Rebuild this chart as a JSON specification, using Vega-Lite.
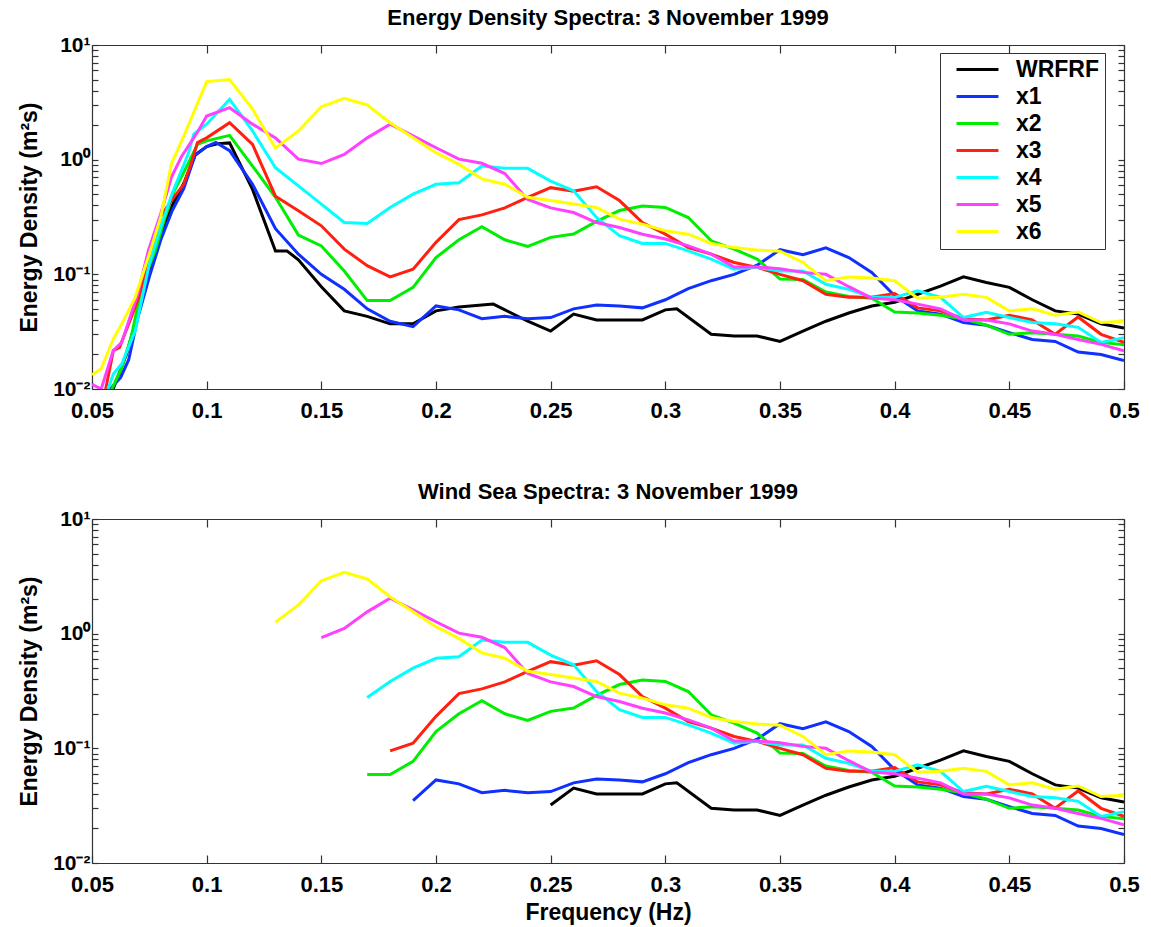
{
  "$schema": "https://vega.github.io/schema/vega-lite/v6.json",
  "background": "white",
  "padding": {"left": 18, "top": 7, "right": 5, "bottom": 5},
  "config": {
    "font": "Liberation Sans",
    "view": {"stroke": null},
    "axis": {"grid": false, "domainColor": "#333333", "domainWidth": 1.2, "tickColor": "#333333", "tickWidth": 1.2,
      "labelColor": "black", "labelFontWeight": "bold", "labelFontSize": 22, "titleFontSize": 23, "titleFontWeight": "bold", "titleColor": "black", "labelOverlap": false, "labelBound": false, "labelFlush": false},
    "title": {"fontSize": 22, "fontWeight": "bold", "color": "black", "anchor": "middle"}
  },
  "datasets": {
    "cutoff": [
      {"s": "WRFRF", "f0": 0.25}, {"s": "x1", "f0": 0.19}, {"s": "x2", "f0": 0.17}, {"s": "x3", "f0": 0.18},
      {"s": "x4", "f0": 0.17}, {"s": "x5", "f0": 0.15}, {"s": "x6", "f0": 0.13}
    ],
    "spec": [
      {"s":"WRFRF","f":0.055,"E":0.006},{"s":"WRFRF","f":0.06,"E":0.011},{"s":"WRFRF","f":0.065,"E":0.02},{"s":"WRFRF","f":0.07,"E":0.045},{"s":"WRFRF","f":0.075,"E":0.1},{"s":"WRFRF","f":0.08,"E":0.22},{"s":"WRFRF","f":0.085,"E":0.4},{"s":"WRFRF","f":0.09,"E":0.62},{"s":"WRFRF","f":0.095,"E":1.1},{"s":"WRFRF","f":0.1,"E":1.3},{"s":"WRFRF","f":0.105,"E":1.38},{"s":"WRFRF","f":0.11,"E":1.4},{"s":"WRFRF","f":0.12,"E":0.55},{"s":"WRFRF","f":0.13,"E":0.16},{"s":"WRFRF","f":0.135,"E":0.16},{"s":"WRFRF","f":0.14,"E":0.134},{"s":"WRFRF","f":0.15,"E":0.078},{"s":"WRFRF","f":0.16,"E":0.048},{"s":"WRFRF","f":0.17,"E":0.043},{"s":"WRFRF","f":0.18,"E":0.037},{"s":"WRFRF","f":0.19,"E":0.037},{"s":"WRFRF","f":0.2,"E":0.048},{"s":"WRFRF","f":0.21,"E":0.052},{"s":"WRFRF","f":0.22,"E":0.054},{"s":"WRFRF","f":0.225,"E":0.055},{"s":"WRFRF","f":0.24,"E":0.039},{"s":"WRFRF","f":0.25,"E":0.032},{"s":"WRFRF","f":0.26,"E":0.045},{"s":"WRFRF","f":0.27,"E":0.04},{"s":"WRFRF","f":0.28,"E":0.04},{"s":"WRFRF","f":0.29,"E":0.04},{"s":"WRFRF","f":0.3,"E":0.049},{"s":"WRFRF","f":0.305,"E":0.05},{"s":"WRFRF","f":0.32,"E":0.03},{"s":"WRFRF","f":0.33,"E":0.029},{"s":"WRFRF","f":0.34,"E":0.029},{"s":"WRFRF","f":0.35,"E":0.026},{"s":"WRFRF","f":0.36,"E":0.032},{"s":"WRFRF","f":0.37,"E":0.039},{"s":"WRFRF","f":0.38,"E":0.046},{"s":"WRFRF","f":0.39,"E":0.053},{"s":"WRFRF","f":0.4,"E":0.057},{"s":"WRFRF","f":0.41,"E":0.067},{"s":"WRFRF","f":0.42,"E":0.079},{"s":"WRFRF","f":0.43,"E":0.095},{"s":"WRFRF","f":0.44,"E":0.085},{"s":"WRFRF","f":0.45,"E":0.077},{"s":"WRFRF","f":0.46,"E":0.06},{"s":"WRFRF","f":0.47,"E":0.048},{"s":"WRFRF","f":0.48,"E":0.045},{"s":"WRFRF","f":0.49,"E":0.037},{"s":"WRFRF","f":0.5,"E":0.034},

      {"s":"x1","f":0.055,"E":0.006},{"s":"x1","f":0.058,"E":0.01},{"s":"x1","f":0.0625,"E":0.0126},{"s":"x1","f":0.066,"E":0.018},{"s":"x1","f":0.07,"E":0.042},{"s":"x1","f":0.075,"E":0.095},{"s":"x1","f":0.08,"E":0.2},{"s":"x1","f":0.085,"E":0.36},{"s":"x1","f":0.09,"E":0.56},{"s":"x1","f":0.095,"E":1.1},{"s":"x1","f":0.1,"E":1.3},{"s":"x1","f":0.104,"E":1.41},{"s":"x1","f":0.11,"E":1.2},{"s":"x1","f":0.12,"E":0.61},{"s":"x1","f":0.13,"E":0.25},{"s":"x1","f":0.14,"E":0.15},{"s":"x1","f":0.15,"E":0.1},{"s":"x1","f":0.16,"E":0.074},{"s":"x1","f":0.17,"E":0.05},{"s":"x1","f":0.18,"E":0.039},{"s":"x1","f":0.19,"E":0.035},{"s":"x1","f":0.2,"E":0.053},{"s":"x1","f":0.21,"E":0.049},{"s":"x1","f":0.22,"E":0.041},{"s":"x1","f":0.23,"E":0.043},{"s":"x1","f":0.24,"E":0.041},{"s":"x1","f":0.25,"E":0.042},{"s":"x1","f":0.26,"E":0.05},{"s":"x1","f":0.27,"E":0.054},{"s":"x1","f":0.28,"E":0.053},{"s":"x1","f":0.29,"E":0.051},{"s":"x1","f":0.3,"E":0.06},{"s":"x1","f":0.31,"E":0.075},{"s":"x1","f":0.32,"E":0.088},{"s":"x1","f":0.33,"E":0.1},{"s":"x1","f":0.34,"E":0.12},{"s":"x1","f":0.35,"E":0.164},{"s":"x1","f":0.36,"E":0.148},{"s":"x1","f":0.37,"E":0.17},{"s":"x1","f":0.38,"E":0.14},{"s":"x1","f":0.39,"E":0.104},{"s":"x1","f":0.4,"E":0.065},{"s":"x1","f":0.41,"E":0.048},{"s":"x1","f":0.42,"E":0.045},{"s":"x1","f":0.43,"E":0.038},{"s":"x1","f":0.44,"E":0.036},{"s":"x1","f":0.45,"E":0.031},{"s":"x1","f":0.46,"E":0.027},{"s":"x1","f":0.47,"E":0.026},{"s":"x1","f":0.48,"E":0.021},{"s":"x1","f":0.49,"E":0.02},{"s":"x1","f":0.5,"E":0.0177},

      {"s":"x2","f":0.055,"E":0.006},{"s":"x2","f":0.0587,"E":0.01},{"s":"x2","f":0.063,"E":0.0155},{"s":"x2","f":0.067,"E":0.028},{"s":"x2","f":0.072,"E":0.083},{"s":"x2","f":0.0775,"E":0.16},{"s":"x2","f":0.082,"E":0.32},{"s":"x2","f":0.086,"E":0.54},{"s":"x2","f":0.092,"E":0.93},{"s":"x2","f":0.096,"E":1.36},{"s":"x2","f":0.1,"E":1.46},{"s":"x2","f":0.11,"E":1.63},{"s":"x2","f":0.12,"E":0.88},{"s":"x2","f":0.13,"E":0.47},{"s":"x2","f":0.14,"E":0.22},{"s":"x2","f":0.15,"E":0.177},{"s":"x2","f":0.16,"E":0.107},{"s":"x2","f":0.17,"E":0.059},{"s":"x2","f":0.18,"E":0.059},{"s":"x2","f":0.19,"E":0.077},{"s":"x2","f":0.2,"E":0.14},{"s":"x2","f":0.21,"E":0.2},{"s":"x2","f":0.22,"E":0.26},{"s":"x2","f":0.23,"E":0.2},{"s":"x2","f":0.24,"E":0.175},{"s":"x2","f":0.25,"E":0.21},{"s":"x2","f":0.26,"E":0.225},{"s":"x2","f":0.27,"E":0.29},{"s":"x2","f":0.28,"E":0.36},{"s":"x2","f":0.29,"E":0.395},{"s":"x2","f":0.3,"E":0.383},{"s":"x2","f":0.31,"E":0.313},{"s":"x2","f":0.32,"E":0.196},{"s":"x2","f":0.33,"E":0.166},{"s":"x2","f":0.34,"E":0.136},{"s":"x2","f":0.35,"E":0.091},{"s":"x2","f":0.36,"E":0.09},{"s":"x2","f":0.37,"E":0.07},{"s":"x2","f":0.38,"E":0.064},{"s":"x2","f":0.39,"E":0.062},{"s":"x2","f":0.4,"E":0.047},{"s":"x2","f":0.41,"E":0.046},{"s":"x2","f":0.42,"E":0.044},{"s":"x2","f":0.43,"E":0.041},{"s":"x2","f":0.44,"E":0.036},{"s":"x2","f":0.45,"E":0.03},{"s":"x2","f":0.46,"E":0.031},{"s":"x2","f":0.47,"E":0.03},{"s":"x2","f":0.48,"E":0.029},{"s":"x2","f":0.49,"E":0.0255},{"s":"x2","f":0.5,"E":0.0243},

      {"s":"x3","f":0.055,"E":0.008},{"s":"x3","f":0.0593,"E":0.0216},{"s":"x3","f":0.062,"E":0.023},{"s":"x3","f":0.066,"E":0.037},{"s":"x3","f":0.07,"E":0.06},{"s":"x3","f":0.075,"E":0.13},{"s":"x3","f":0.08,"E":0.32},{"s":"x3","f":0.085,"E":0.45},{"s":"x3","f":0.09,"E":0.61},{"s":"x3","f":0.093,"E":0.9},{"s":"x3","f":0.096,"E":1.41},{"s":"x3","f":0.1,"E":1.55},{"s":"x3","f":0.11,"E":2.1},{"s":"x3","f":0.12,"E":1.36},{"s":"x3","f":0.13,"E":0.48},{"s":"x3","f":0.14,"E":0.358},{"s":"x3","f":0.15,"E":0.265},{"s":"x3","f":0.16,"E":0.166},{"s":"x3","f":0.17,"E":0.119},{"s":"x3","f":0.18,"E":0.095},{"s":"x3","f":0.19,"E":0.111},{"s":"x3","f":0.2,"E":0.19},{"s":"x3","f":0.21,"E":0.3},{"s":"x3","f":0.22,"E":0.33},{"s":"x3","f":0.23,"E":0.38},{"s":"x3","f":0.24,"E":0.47},{"s":"x3","f":0.25,"E":0.57},{"s":"x3","f":0.26,"E":0.53},{"s":"x3","f":0.27,"E":0.58},{"s":"x3","f":0.28,"E":0.44},{"s":"x3","f":0.29,"E":0.283},{"s":"x3","f":0.3,"E":0.224},{"s":"x3","f":0.31,"E":0.171},{"s":"x3","f":0.32,"E":0.15},{"s":"x3","f":0.33,"E":0.127},{"s":"x3","f":0.34,"E":0.115},{"s":"x3","f":0.35,"E":0.1},{"s":"x3","f":0.36,"E":0.088},{"s":"x3","f":0.37,"E":0.067},{"s":"x3","f":0.38,"E":0.063},{"s":"x3","f":0.39,"E":0.063},{"s":"x3","f":0.4,"E":0.068},{"s":"x3","f":0.41,"E":0.051},{"s":"x3","f":0.42,"E":0.048},{"s":"x3","f":0.43,"E":0.041},{"s":"x3","f":0.44,"E":0.04},{"s":"x3","f":0.45,"E":0.044},{"s":"x3","f":0.46,"E":0.04},{"s":"x3","f":0.47,"E":0.03},{"s":"x3","f":0.48,"E":0.0425},{"s":"x3","f":0.49,"E":0.03},{"s":"x3","f":0.5,"E":0.0255},

      {"s":"x4","f":0.055,"E":0.006},{"s":"x4","f":0.057,"E":0.01},{"s":"x4","f":0.0593,"E":0.0135},{"s":"x4","f":0.063,"E":0.0166},{"s":"x4","f":0.0688,"E":0.032},{"s":"x4","f":0.075,"E":0.124},{"s":"x4","f":0.08,"E":0.26},{"s":"x4","f":0.085,"E":0.51},{"s":"x4","f":0.092,"E":1.13},{"s":"x4","f":0.0944,"E":1.67},{"s":"x4","f":0.1,"E":2.04},{"s":"x4","f":0.11,"E":3.36},{"s":"x4","f":0.12,"E":1.78},{"s":"x4","f":0.13,"E":0.85},{"s":"x4","f":0.14,"E":0.59},{"s":"x4","f":0.15,"E":0.41},{"s":"x4","f":0.16,"E":0.283},{"s":"x4","f":0.17,"E":0.278},{"s":"x4","f":0.18,"E":0.383},{"s":"x4","f":0.19,"E":0.5},{"s":"x4","f":0.2,"E":0.61},{"s":"x4","f":0.21,"E":0.63},{"s":"x4","f":0.22,"E":0.88},{"s":"x4","f":0.23,"E":0.84},{"s":"x4","f":0.24,"E":0.84},{"s":"x4","f":0.25,"E":0.65},{"s":"x4","f":0.26,"E":0.535},{"s":"x4","f":0.27,"E":0.313},{"s":"x4","f":0.28,"E":0.217},{"s":"x4","f":0.29,"E":0.186},{"s":"x4","f":0.3,"E":0.186},{"s":"x4","f":0.31,"E":0.16},{"s":"x4","f":0.32,"E":0.136},{"s":"x4","f":0.33,"E":0.111},{"s":"x4","f":0.34,"E":0.115},{"s":"x4","f":0.35,"E":0.107},{"s":"x4","f":0.36,"E":0.107},{"s":"x4","f":0.37,"E":0.082},{"s":"x4","f":0.38,"E":0.074},{"s":"x4","f":0.39,"E":0.063},{"s":"x4","f":0.4,"E":0.063},{"s":"x4","f":0.41,"E":0.072},{"s":"x4","f":0.42,"E":0.063},{"s":"x4","f":0.43,"E":0.042},{"s":"x4","f":0.44,"E":0.0466},{"s":"x4","f":0.45,"E":0.042},{"s":"x4","f":0.46,"E":0.038},{"s":"x4","f":0.47,"E":0.037},{"s":"x4","f":0.48,"E":0.0345},{"s":"x4","f":0.49,"E":0.0255},{"s":"x4","f":0.5,"E":0.028},

      {"s":"x5","f":0.05,"E":0.011},{"s":"x5","f":0.054,"E":0.01},{"s":"x5","f":0.0593,"E":0.0216},{"s":"x5","f":0.063,"E":0.0256},{"s":"x5","f":0.07,"E":0.068},{"s":"x5","f":0.0746,"E":0.162},{"s":"x5","f":0.08,"E":0.34},{"s":"x5","f":0.0847,"E":0.71},{"s":"x5","f":0.089,"E":1.06},{"s":"x5","f":0.0963,"E":1.78},{"s":"x5","f":0.1,"E":2.4},{"s":"x5","f":0.11,"E":2.84},{"s":"x5","f":0.12,"E":2.04},{"s":"x5","f":0.13,"E":1.55},{"s":"x5","f":0.14,"E":1.01},{"s":"x5","f":0.15,"E":0.925},{"s":"x5","f":0.16,"E":1.11},{"s":"x5","f":0.17,"E":1.55},{"s":"x5","f":0.18,"E":2.04},{"s":"x5","f":0.19,"E":1.61},{"s":"x5","f":0.2,"E":1.27},{"s":"x5","f":0.21,"E":1.01},{"s":"x5","f":0.22,"E":0.93},{"s":"x5","f":0.23,"E":0.757},{"s":"x5","f":0.24,"E":0.45},{"s":"x5","f":0.25,"E":0.38},{"s":"x5","f":0.26,"E":0.346},{"s":"x5","f":0.27,"E":0.283},{"s":"x5","f":0.28,"E":0.256},{"s":"x5","f":0.29,"E":0.224},{"s":"x5","f":0.3,"E":0.203},{"s":"x5","f":0.31,"E":0.177},{"s":"x5","f":0.32,"E":0.15},{"s":"x5","f":0.33,"E":0.116},{"s":"x5","f":0.34,"E":0.116},{"s":"x5","f":0.35,"E":0.112},{"s":"x5","f":0.36,"E":0.104},{"s":"x5","f":0.37,"E":0.1},{"s":"x5","f":0.38,"E":0.078},{"s":"x5","f":0.39,"E":0.062},{"s":"x5","f":0.4,"E":0.06},{"s":"x5","f":0.41,"E":0.055},{"s":"x5","f":0.42,"E":0.05},{"s":"x5","f":0.43,"E":0.04},{"s":"x5","f":0.44,"E":0.04},{"s":"x5","f":0.45,"E":0.037},{"s":"x5","f":0.46,"E":0.032},{"s":"x5","f":0.47,"E":0.03},{"s":"x5","f":0.48,"E":0.027},{"s":"x5","f":0.49,"E":0.0245},{"s":"x5","f":0.5,"E":0.0215},

      {"s":"x6","f":0.05,"E":0.0133},{"s":"x6","f":0.054,"E":0.015},{"s":"x6","f":0.0593,"E":0.0274},{"s":"x6","f":0.063,"E":0.037},{"s":"x6","f":0.0688,"E":0.063},{"s":"x6","f":0.075,"E":0.15},{"s":"x6","f":0.08,"E":0.317},{"s":"x6","f":0.0847,"E":0.93},{"s":"x6","f":0.09,"E":1.6},{"s":"x6","f":0.1,"E":4.8},{"s":"x6","f":0.11,"E":5.0},{"s":"x6","f":0.12,"E":2.76},{"s":"x6","f":0.13,"E":1.26},{"s":"x6","f":0.14,"E":1.78},{"s":"x6","f":0.15,"E":2.89},{"s":"x6","f":0.16,"E":3.43},{"s":"x6","f":0.17,"E":3.0},{"s":"x6","f":0.18,"E":2.1},{"s":"x6","f":0.19,"E":1.55},{"s":"x6","f":0.2,"E":1.15},{"s":"x6","f":0.21,"E":0.91},{"s":"x6","f":0.22,"E":0.68},{"s":"x6","f":0.23,"E":0.61},{"s":"x6","f":0.24,"E":0.47},{"s":"x6","f":0.25,"E":0.44},{"s":"x6","f":0.26,"E":0.41},{"s":"x6","f":0.27,"E":0.383},{"s":"x6","f":0.28,"E":0.303},{"s":"x6","f":0.29,"E":0.274},{"s":"x6","f":0.3,"E":0.24},{"s":"x6","f":0.31,"E":0.224},{"s":"x6","f":0.32,"E":0.186},{"s":"x6","f":0.33,"E":0.171},{"s":"x6","f":0.34,"E":0.163},{"s":"x6","f":0.35,"E":0.159},{"s":"x6","f":0.36,"E":0.127},{"s":"x6","f":0.37,"E":0.088},{"s":"x6","f":0.38,"E":0.095},{"s":"x6","f":0.39,"E":0.093},{"s":"x6","f":0.4,"E":0.088},{"s":"x6","f":0.41,"E":0.062},{"s":"x6","f":0.42,"E":0.063},{"s":"x6","f":0.43,"E":0.067},{"s":"x6","f":0.44,"E":0.063},{"s":"x6","f":0.45,"E":0.048},{"s":"x6","f":0.46,"E":0.05},{"s":"x6","f":0.47,"E":0.044},{"s":"x6","f":0.48,"E":0.047},{"s":"x6","f":0.49,"E":0.038},{"s":"x6","f":0.5,"E":0.039}
    ]
  },
  "vconcat": [
    {
      "width": 1032, "height": 344,
      "title": {"text": "Energy Density Spectra: 3 November 1999", "offset": 4},
      "data": {"name": "spec"},
      "layer": [
        {
          "mark": {"type": "line", "strokeWidth": 3, "clip": true},
          "encoding": {
            "x": {"field": "f", "type": "quantitative", "scale": {"domain": [0.05, 0.5], "nice": false, "zero": false},
              "axis": {"orient": "bottom", "title": null, "values": [0.05,0.1,0.15,0.2,0.25,0.3,0.35,0.4,0.45,0.5], "format": ".2~f", "tickSize": -8, "labelPadding": 19}},
            "y": {"field": "E", "type": "quantitative", "scale": {"type": "log", "domain": [0.01, 10], "nice": false},
              "axis": {"orient": "left", "title": "Energy Density (m²s)", "titlePadding": 11, "tickSize": -6, "labelPadding": 8, "labelFontSize": 21,
                "values": [0.01,0.02,0.03,0.04,0.05,0.06,0.07,0.08,0.09,0.1,0.2,0.3,0.4,0.5,0.6,0.7,0.8,0.9,1,2,3,4,5,6,7,8,9,10],
                "labelExpr": "datum.value == 10 ? '10¹' : datum.value == 1 ? '10⁰' : abs(datum.value - 0.1) < 1e-9 ? '10⁻¹' : abs(datum.value - 0.01) < 1e-9 ? '10⁻²' : ''"}},
            "color": {"field": "s", "type": "nominal",
              "scale": {"domain": ["WRFRF","x1","x2","x3","x4","x5","x6"], "range": ["#000000","#1030ff","#00ee00","#ff2010","#00ffff","#ff40ff","#ffff00"]},
              "legend": {"orient": "none", "legendX": 848, "legendY": 8, "title": null, "strokeColor": "#333333", "fillColor": "white",
                "padding": 5, "rowPadding": 3, "labelFontSize": 23, "labelFontWeight": "bold", "labelColor": "black",
                "symbolType": "M-2.33,0H2.33", "symbolSize": 324, "symbolStrokeWidth": 3, "symbolOffset": 21, "labelOffset": 27}}
          }
        },
        {
          "mark": {"type": "point", "opacity": 0, "clip": true},
          "encoding": {
            "x": {"field": "f", "type": "quantitative",
              "axis": {"orient": "top", "title": null, "labels": false, "values": [0.05,0.1,0.15,0.2,0.25,0.3,0.35,0.4,0.45,0.5], "tickSize": -8}},
            "y": {"field": "E", "type": "quantitative",
              "axis": {"orient": "right", "title": null, "labels": false, "tickSize": -6,
                "values": [0.01,0.02,0.03,0.04,0.05,0.06,0.07,0.08,0.09,0.1,0.2,0.3,0.4,0.5,0.6,0.7,0.8,0.9,1,2,3,4,5,6,7,8,9,10]}}
          }
        }
      ],
      "resolve": {"axis": {"x": "independent", "y": "independent"}}
    },
    {
      "width": 1032, "height": 344,
      "title": {"text": "Wind Sea Spectra: 3 November 1999", "offset": 4},
      "data": {"name": "spec"},
      "transform": [
        {"lookup": "s", "from": {"data": {"name": "cutoff"}, "key": "s", "fields": ["f0"]}},
        {"filter": "datum.f >= datum.f0 - 0.0001"}
      ],
      "layer": [
        {
          "mark": {"type": "line", "strokeWidth": 3, "clip": true},
          "encoding": {
            "x": {"field": "f", "type": "quantitative", "scale": {"domain": [0.05, 0.5], "nice": false, "zero": false},
              "axis": {"orient": "bottom", "title": "Frequency (Hz)", "titlePadding": 6, "values": [0.05,0.1,0.15,0.2,0.25,0.3,0.35,0.4,0.45,0.5], "format": ".2~f", "tickSize": -8, "labelPadding": 19}},
            "y": {"field": "E", "type": "quantitative", "scale": {"type": "log", "domain": [0.01, 10], "nice": false},
              "axis": {"orient": "left", "title": "Energy Density (m²s)", "titlePadding": 11, "tickSize": -6, "labelPadding": 8, "labelFontSize": 21,
                "values": [0.01,0.02,0.03,0.04,0.05,0.06,0.07,0.08,0.09,0.1,0.2,0.3,0.4,0.5,0.6,0.7,0.8,0.9,1,2,3,4,5,6,7,8,9,10],
                "labelExpr": "datum.value == 10 ? '10¹' : datum.value == 1 ? '10⁰' : abs(datum.value - 0.1) < 1e-9 ? '10⁻¹' : abs(datum.value - 0.01) < 1e-9 ? '10⁻²' : ''"}},
            "color": {"field": "s", "type": "nominal",
              "scale": {"domain": ["WRFRF","x1","x2","x3","x4","x5","x6"], "range": ["#000000","#1030ff","#00ee00","#ff2010","#00ffff","#ff40ff","#ffff00"]},
              "legend": null}
          }
        },
        {
          "mark": {"type": "point", "opacity": 0, "clip": true},
          "encoding": {
            "x": {"field": "f", "type": "quantitative",
              "axis": {"orient": "top", "title": null, "labels": false, "values": [0.05,0.1,0.15,0.2,0.25,0.3,0.35,0.4,0.45,0.5], "tickSize": -8}},
            "y": {"field": "E", "type": "quantitative",
              "axis": {"orient": "right", "title": null, "labels": false, "tickSize": -6,
                "values": [0.01,0.02,0.03,0.04,0.05,0.06,0.07,0.08,0.09,0.1,0.2,0.3,0.4,0.5,0.6,0.7,0.8,0.9,1,2,3,4,5,6,7,8,9,10]}}
          }
        }
      ],
      "resolve": {"axis": {"x": "independent", "y": "independent"}}
    }
  ],
  "spacing": 60,
  "resolve": {"scale": {"color": "independent"}, "legend": {"color": "independent"}}
}
